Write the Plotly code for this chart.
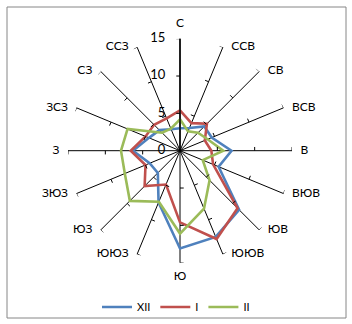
import math
import plotly.graph_objects as go

directions = ["С", "ССВ", "СВ", "ВСВ", "В", "ВЮВ", "ЮВ", "ЮЮВ",
              "Ю", "ЮЮЗ", "ЮЗ", "ЗЮЗ", "З", "ЗСЗ", "СЗ", "ССЗ"]
xii = [3.0, 3.3, 4.6, 4.6, 6.9, 5.6, 11.2, 12.5, 13.1, 7.5, 4.2, 4.4, 6.3, 4.5, 3.9, 3.1]
i_vals = [5.4, 4.0, 5.1, 3.6, 4.2, 4.8, 10.9, 12.8, 9.6, 4.9, 6.7, 5.0, 6.6, 5.0, 4.9, 4.7]
ii_vals = [4.2, 2.8, 3.4, 4.0, 5.8, 3.3, 5.6, 8.4, 11.1, 7.4, 9.5, 8.0, 7.9, 7.6, 3.4, 3.2]
series_names = ["XII", "I", "II"]
series_colors = ["#4F81BD", "#C0504D", "#9BBB59"]
radial_ticks = [0, 5, 10, 15]
r_max = 15

W, H = 352, 324
cx, cy, R = 180, 150.7, 112
dom_x = [(cx - R) / W, (cx + R) / W]
dom_y = [(H - cy - R) / H, (H - cy + R) / H]
font_family = "Lato, 'Liberation Sans', 'DejaVu Sans', sans-serif"

fig = go.Figure()
for name, vals, col in zip(series_names, [xii, i_vals, ii_vals], series_colors):
    fig.add_trace(go.Scatterpolar(
        r=vals + vals[:1], theta=directions + directions[:1],
        mode="lines", name=name, line=dict(color=col, width=2.6),
        subplot="polar"))

# category labels at the tips of the spokes
n = len(directions)
positions = []
for k in range(n):
    a = k * 360.0 / n
    if a == 0:
        positions.append("top center")
    elif a == 180:
        positions.append("bottom center")
    elif a < 180:
        positions.append("middle right")
    else:
        positions.append("middle left")
fig.add_trace(go.Scatterpolar(
    r=[r_max] * n, theta=directions, mode="markers+text", text=directions,
    textposition=positions, marker=dict(size=12, opacity=0),
    textfont=dict(size=12, family=font_family, color="black"),
    showlegend=False, hoverinfo="skip", cliponaxis=False, subplot="polar"))

# tick marks on every spoke (derived from tick values and category count)
h = 0.5
tr, tt = [], []
for k in range(n):
    a = k * 360.0 / n
    for v in radial_ticks[1:]:
        tr += [v, math.hypot(v, h), None]
        tt += [a, a - math.degrees(math.atan(h / v)), None]
fig.add_trace(go.Scatterpolar(r=tr, theta=tt, mode="lines", subplot="polar2",
                              line=dict(color="black", width=1), showlegend=False,
                              hoverinfo="skip", cliponaxis=False))

# value labels beside the vertical axis
fig.add_trace(go.Scatterpolar(
    r=radial_ticks, theta=[0] * len(radial_ticks), mode="markers+text",
    text=[str(v) for v in radial_ticks], textposition="middle left",
    marker=dict(size=22, opacity=0), textfont=dict(size=13, family=font_family, color="black"),
    showlegend=False, hoverinfo="skip", cliponaxis=False, subplot="polar2"))

fig.update_layout(
    width=W, height=H,
    margin=dict(l=0, r=0, t=0, b=0),
    paper_bgcolor="white",
    font=dict(family=font_family, size=11, color="#000000"),
    polar=dict(
        domain=dict(x=dom_x, y=dom_y),
        bgcolor="rgba(0,0,0,0)",
        radialaxis=dict(range=[0, r_max], tickvals=radial_ticks, showgrid=False,
                        showline=True, linecolor="black", linewidth=1.5,
                        angle=90, ticks="", showticklabels=False),
        angularaxis=dict(direction="clockwise", rotation=90, showgrid=True,
                         gridcolor="black", gridwidth=1.2, showline=False,
                         ticks="", showticklabels=False),
    ),
    polar2=dict(
        domain=dict(x=dom_x, y=dom_y),
        bgcolor="rgba(0,0,0,0)",
        radialaxis=dict(range=[0, r_max], visible=False),
        angularaxis=dict(direction="clockwise", rotation=90, visible=False,
                         thetaunit="degrees"),
    ),
    legend=dict(orientation="h", x=0.5, xanchor="center", y=(H - 307) / H,
                yanchor="middle", font=dict(size=11, family=font_family),
                itemwidth=30, bgcolor="rgba(0,0,0,0)"),
    shapes=[dict(type="rect", xref="paper", yref="paper",
                 x0=7 / W, x1=346 / W, y0=1 - 318 / H, y1=1 - 7 / H,
                 line=dict(color="#868686", width=1))],
)

fig.write_html("out.html")
